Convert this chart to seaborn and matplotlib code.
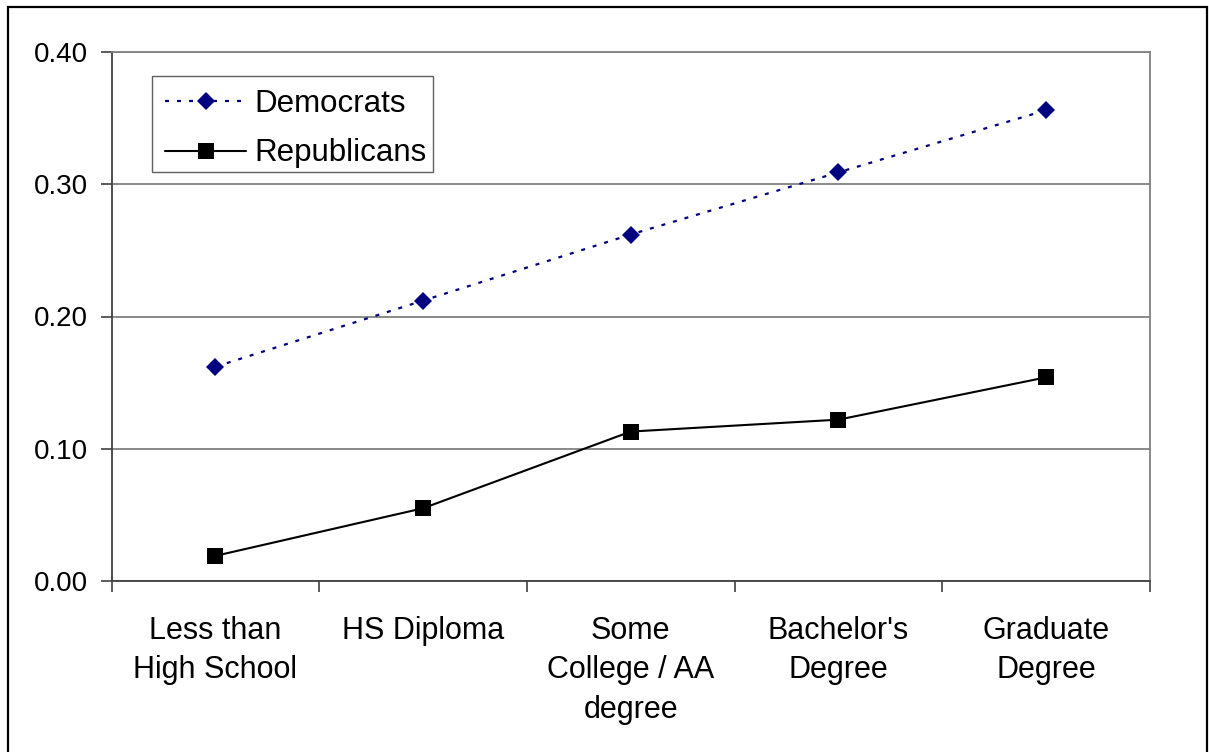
import numpy as np
import pandas as pd
import matplotlib
matplotlib.use("Agg")
import matplotlib.pyplot as plt
import seaborn as sns
from matplotlib.patches import Rectangle
from matplotlib.ticker import FixedLocator, FormatStrFormatter

# Education levels and share of each party's respondents
categories = ["Less than\nHigh School", "HS Diploma", "Some\nCollege / AA\ndegree",
              "Bachelor's\nDegree", "Graduate\nDegree"]
democrats = [0.162, 0.212, 0.262, 0.309, 0.356]
republicans = [0.019, 0.055, 0.113, 0.122, 0.154]
y_ticks = [0.00, 0.10, 0.20, 0.30, 0.40]

sns.set_theme(style="white")
plt.rcParams["font.family"] = ["Liberation Sans", "DejaVu Sans"]
plt.rcParams["text.color"] = "black"
plt.rcParams["xtick.color"] = "black"
plt.rcParams["ytick.color"] = "black"

W, H = 1209, 752
fig = plt.figure(figsize=(W / 100, H / 100), dpi=100)
ax = fig.add_axes([111.5 / W, 1 - 581 / H, (1150 - 111.5) / W, (581 - 52) / H])

pos = np.arange(len(categories))
dem_df = pd.DataFrame({"x": pos, "y": democrats})
rep_df = pd.DataFrame({"x": pos, "y": republicans})

sns.lineplot(data=dem_df, x="x", y="y", ax=ax, color="#000080", lw=1.6,
             marker="D", markersize=9, markeredgewidth=0,
             label="Democrats")
ax.lines[-1].set_dashes((1.8, 3.6))
sns.lineplot(data=rep_df, x="x", y="y", ax=ax, color="black", lw=1.5,
             marker="s", markersize=11, markeredgewidth=0,
             label="Republicans")

ax.set_xlim(-0.5, len(categories) - 0.5)
ax.set_ylim(0, 0.40)
ax.set_xlabel("")
ax.set_ylabel("")

# y axis
ax.yaxis.set_major_locator(FixedLocator(y_ticks))
ax.yaxis.set_major_formatter(FormatStrFormatter("%.2f"))
ax.yaxis.grid(True, color="#808080", lw=1.3)
ax.set_axisbelow(True)

# x axis: labels at category centres, tick marks at category boundaries
ax.set_xticks(pos)
ax.set_xticklabels(categories, fontsize=22, linespacing=1.42, va="top",
                   color="black")
ax.set_xticks(np.arange(len(categories) + 1) - 0.5, minor=True)
ax.tick_params(axis="x", which="major", length=0, pad=25)
ax.tick_params(axis="x", which="minor", length=8, width=1.2, color="#404040",
               direction="out", bottom=True)
ax.tick_params(axis="y", which="major", length=8, width=1.2, color="#404040",
               direction="out", left=True, labelsize=20, pad=9,
               labelcolor="black")

for side in ["top", "right"]:
    ax.spines[side].set_visible(True)
    ax.spines[side].set_color("#808080")
    ax.spines[side].set_linewidth(1.3)
for side in ["left", "bottom"]:
    ax.spines[side].set_color("#404040")
    ax.spines[side].set_linewidth(1.3)

# legend entries, with a plain square frame drawn separately
leg = ax.legend(loc="upper left", bbox_to_anchor=(152 / W, 1 - 76 / H),
                bbox_transform=fig.transFigure, borderaxespad=0,
                fontsize=22.5, frameon=False, handlelength=2.6,
                handletextpad=0.25, labelspacing=0.62, borderpad=0.42)
for t in leg.get_texts():
    t.set_color("black")
fig.patches.append(Rectangle((152 / W, 1 - 172 / H), (433 - 152) / W, 96 / H,
                             transform=fig.transFigure, facecolor="none",
                             edgecolor="#606060", lw=1.0, zorder=5))

# outer chart border
fig.patches.append(Rectangle((8 / W, -0.01), (1207 - 8) / W, 1 - 7 / H + 0.01,
                             transform=fig.transFigure, fill=False,
                             edgecolor="black", lw=1.6))

fig.savefig("out.png", dpi=100, facecolor="white")
